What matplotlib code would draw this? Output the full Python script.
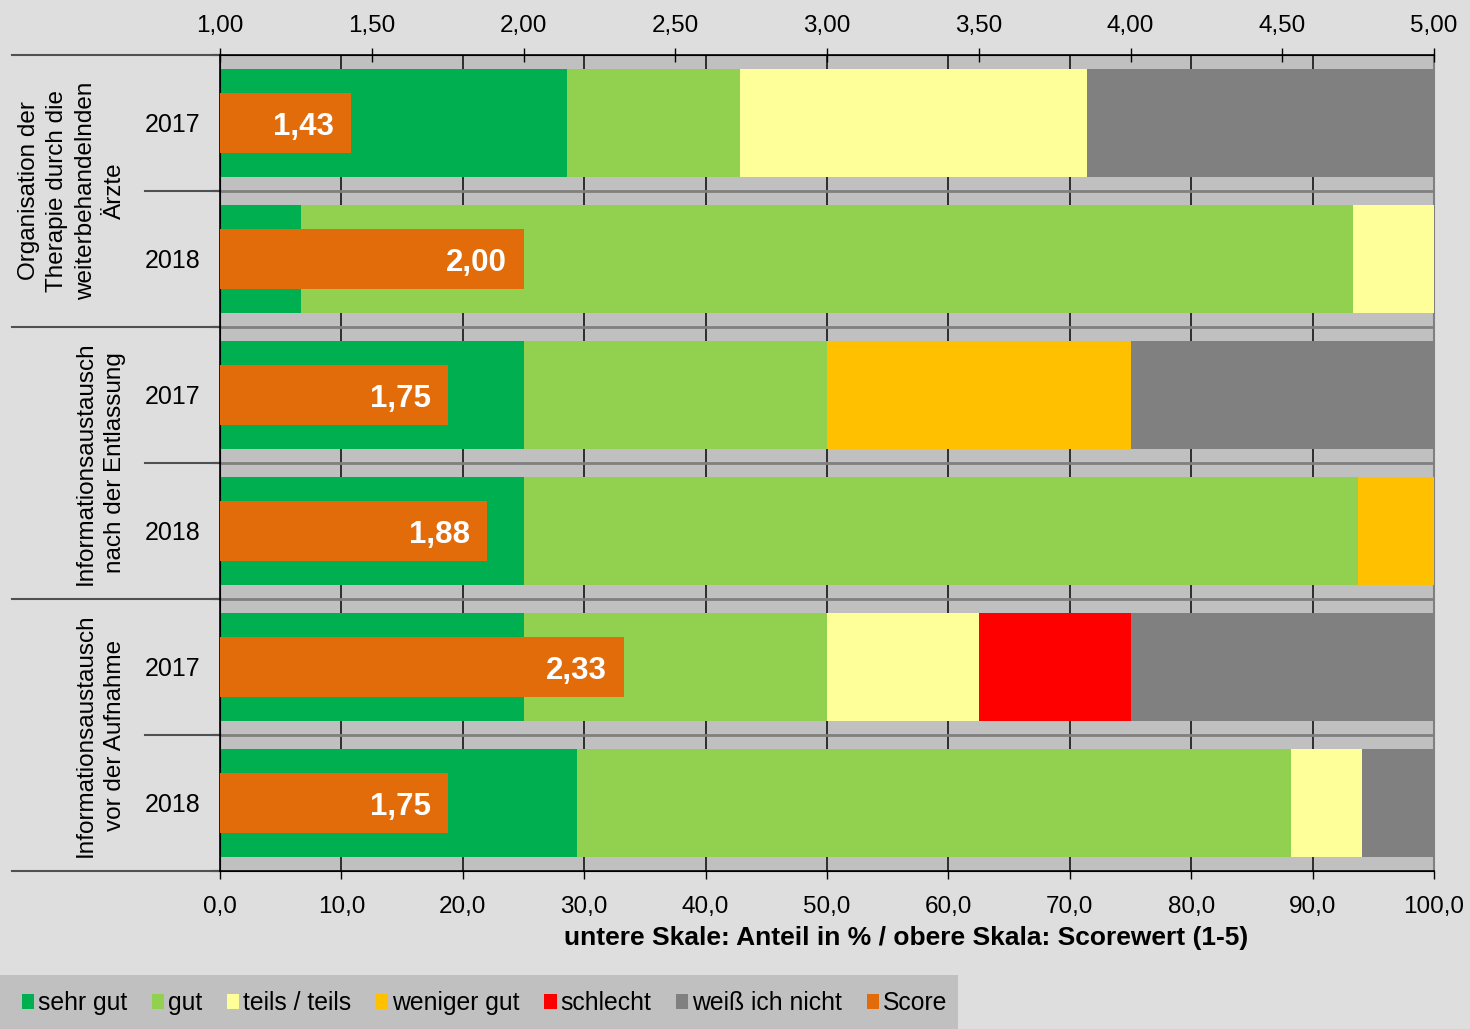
import matplotlib
matplotlib.use("Agg")
import matplotlib.pyplot as plt
from matplotlib.patches import Patch, Rectangle
from matplotlib.transforms import blended_transform_factory
import numpy as np

plt.rcParams["font.family"] = ["Liberation Sans", "DejaVu Sans"]

# rows top -> bottom
groups = ["Organisation der\nTherapie durch die\nweiterbehandelnden\nÄrzte",
          "Informationsaustausch\nnach der Entlassung",
          "Informationsaustausch\nvor der Aufnahme"]
years = ["2017", "2018", "2017", "2018", "2017", "2018"]

categories = ["sehr gut", "gut", "teils / teils", "weniger gut", "schlecht", "weiß ich nicht"]
sehr_gut = [28.57, 6.67, 25.0, 25.0, 25.0, 29.41]
gut = [14.29, 86.67, 25.0, 68.75, 25.0, 58.82]
teils = [28.57, 6.66, 0.0, 0.0, 12.5, 5.88]
weniger_gut = [0.0, 0.0, 25.0, 6.25, 0.0, 0.0]
schlecht = [0.0, 0.0, 0.0, 0.0, 12.5, 0.0]
weiss_nicht = [28.57, 0.0, 25.0, 0.0, 25.0, 5.89]
scores = [1.43, 2.00, 1.75, 1.88, 2.33, 1.75]

colors = ["#00B050", "#92D050", "#FFFF99", "#FFC000", "#FF0000", "#808080"]
score_color = "#E36C0A"
bg = "#DEDEDE"

W, H = 1470, 1029
fig = plt.figure(figsize=(W / 100, H / 100), dpi=100, facecolor=bg)
x0, x1, y0, y1 = 220, 1434, 55, 871
ax = fig.add_axes([x0 / W, 1 - y1 / H, (x1 - x0) / W, (y1 - y0) / H])
ax.set_facecolor("#C0C0C0")

pos = np.arange(len(years)) + 0.5
left = np.zeros(len(years))
for vals, c in zip([sehr_gut, gut, teils, weniger_gut, schlecht, weiss_nicht], colors):
  ax.barh(pos, vals, left=left, height=0.8, color=c, edgecolor="none", zorder=3)
  left += np.array(vals)

ax.set_xlim(0, 100)
ax.set_ylim(len(years), 0)
ax.set_xticks(np.arange(0, 101, 10))
ax.set_xticklabels([f"{v:.1f}".replace(".", ",") for v in np.arange(0, 101, 10)], fontsize=17.5)
for xv in range(10, 100, 10):
  ax.axvline(xv, color="#222222", lw=1.3, zorder=1)
for yv in range(1, len(years)):
  ax.axhline(yv, color="#808080", lw=2, zorder=1)

ax.set_yticks(pos)
ax.set_yticklabels(years, fontsize=18)
ax.set_yticks(np.arange(0, len(years) + 1), minor=True)
ax.tick_params(axis="y", which="major", length=0, pad=14)
ax.tick_params(axis="y", which="minor", length=6, width=1.5, direction="out")
ax.tick_params(axis="x", length=6, width=1, direction="out", pad=12)
ax.spines["right"].set_color("#808080")
ax.spines["right"].set_linewidth(1.5)
for s in ["left", "bottom"]:
  ax.spines[s].set_linewidth(1.2)

# score bars on the upper scale
ax2 = ax.twiny()
ax2.set_xlim(1, 5)
ax2.barh(pos, np.array(scores) - 1, left=1, height=0.44, color=score_color, edgecolor="none", zorder=4)
for p, s in zip(pos, scores):
  ax2.annotate(f"{s:.2f}".replace(".", ","), xy=(s, p), xytext=(-12, -3), textcoords="offset points",
               ha="right", va="center", color="white", fontsize=22.5, fontweight="bold", zorder=5)
st = np.arange(1, 5.01, 0.5)
ax2.set_xticks(st)
ax2.set_xticklabels([f"{v:.2f}".replace(".", ",") for v in st], fontsize=17.5)
ax2.tick_params(axis="x", direction="inout", length=10, width=1, pad=8)
ax2.spines["top"].set_linewidth(1.2)
ax2.spines["right"].set_visible(False)

# left category separators
tr = blended_transform_factory(ax.transAxes, ax.transData)
xf_far = (12 - x0) / (x1 - x0)
xf_near = (145 - x0) / (x1 - x0)
for yv in [0, 2, 4, 6]:
  ax.plot([xf_far, 0], [yv, yv], transform=tr, color="#505050", lw=1.5, clip_on=False)
for yv in [1, 3, 5]:
  ax.plot([xf_near, 0], [yv, yv], transform=tr, color="#505050", lw=1.5, clip_on=False)
xf_grp = (126 - x0) / (x1 - x0)
for i, g in enumerate(groups):
  ax.text(xf_grp, 2 * i + 1, g, transform=tr, rotation=90, ha="right", va="center",
          multialignment="center", fontsize=17.5, linespacing=1.4)

fig.text(906 / W, 1 - 938 / H, "untere Skale: Anteil in % / obere Skala: Scorewert (1-5)",
         ha="center", va="center", fontsize=19, fontweight="bold")

# legend strip
fig.patches.append(Rectangle((0, 0), 958 / W, 54 / H, transform=fig.transFigure,
                             facecolor="#C0C0C0", edgecolor="none", zorder=0))
handles = [Patch(facecolor=c, edgecolor="none") for c in colors] + [Patch(facecolor=score_color, edgecolor="none")]
labels = categories + ["Score"]
fig.legend(handles, labels, loc="center left", bbox_to_anchor=(12 / W, 1 - 1003 / H), ncol=7,
           frameon=False, fontsize=17.8, handlelength=0.5, handleheight=0.55, handletextpad=0.15,
           columnspacing=1.0, borderaxespad=0)

fig.savefig("out.png", dpi=100, facecolor=bg)
